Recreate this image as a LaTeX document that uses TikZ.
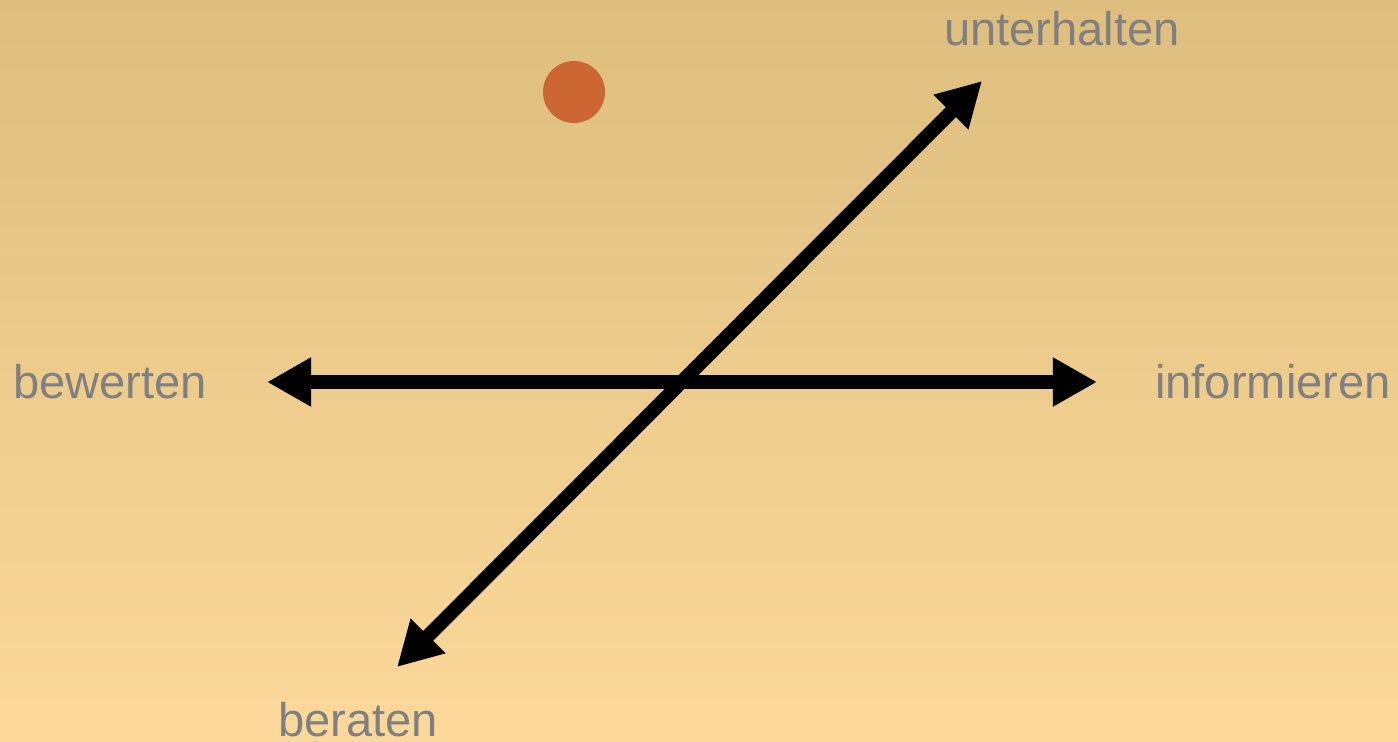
\documentclass[tikz,border=0pt]{standalone}
\usepackage{fontspec}
\setmainfont{Liberation Sans}
\usepackage{xcolor}
\definecolor{sandtop}{RGB}{221,190,126}
\definecolor{sandbottom}{RGB}{252,217,155}
\definecolor{rust}{RGB}{204,102,51}
\definecolor{axisgray}{RGB}{128,128,128}
\usetikzlibrary{arrows.meta,positioning}
\tikzset{
  axis/.style={{Triangle[length=0.44cm,width=0.46cm]}-{Triangle[length=0.44cm,width=0.46cm]},line width=0.14cm,draw=black},
  axislabel/.style={inner sep=0pt,text=axisgray,font=\fontsize{13.4}{16}\selectfont},
  marker/.style={circle,fill=rust,minimum size=0.62cm,inner sep=0pt}
}

\begin{document}
\begin{tikzpicture}[x=0.01cm,y=-0.01cm]
  \shade[top color=sandtop,bottom color=sandbottom] (0,0) rectangle (1398,741);
  \useasboundingbox (0,0) rectangle (1398,741);

  % axis ends
  \coordinate (west) at (267,382);
  \coordinate (east) at (1097,382);
  \coordinate (south) at (397,667);
  \coordinate (north) at (982,81);

  \draw[axis] (west) -- (east);
  \draw[axis] (south) -- (north);

  \node[axislabel] (bewerten) at (110,382) {bewerten};
  \node[axislabel] (informieren) at (1273,382) {informieren};
  \node[axislabel] (unterhalten) at (1062,29) {unterhalten};
  \node[axislabel] (beraten) at (358,720) {beraten};

  \node[marker] (position) at (574,92) {};
\end{tikzpicture}
\end{document}
